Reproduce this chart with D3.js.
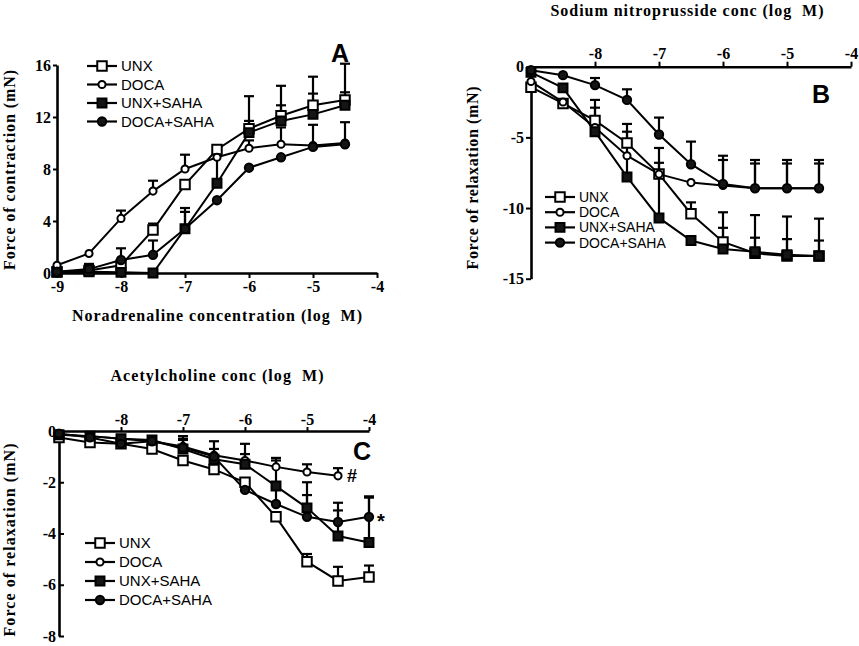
<!DOCTYPE html>
<html>
<head>
<meta charset="utf-8">
<script src="https://cdn.jsdelivr.net/npm/d3@7"></script>
<style>
  body { margin: 0; background: #fff; }
  svg { display: block; }
</style>
</head>
<body>
<script>
// log molar concentrations
const concAB = [-9, -8.5, -8, -7.5, -7, -6.5, -6, -5.5, -5, -4.5];
const concC = [-9, -8.5, -8, -7.5, -7, -6.5, -6, -5.5, -5, -4.5, -4];
const groups = ['UNX', 'DOCA', 'UNX+SAHA', 'DOCA+SAHA'];

// panel A: noradrenaline, force of contraction (mN), mean and SEM
const aUNX = [0.1, 0.2, 0.6, 3.3, 6.8, 9.5, 11.1, 12.1, 12.9, 13.3];
const aUNXErr = [0, 0, 0, 0.5, 0.3, 0.3, 2.5, 2.3, 2.2, 2.8];
const aDOCA = [0.6, 1.5, 4.2, 6.3, 8.0, 8.9, 9.6, 9.9, 9.8, 10.0];
const aDOCAErr = [0, 0, 0.6, 0.8, 1.1, 0.4, 0.6, 1.3, 1.6, 1.6];
const aUNXSAHA = [0.05, 0.1, 0.05, 0, 3.4, 6.9, 10.8, 11.7, 12.2, 12.9];
const aUNXSAHAErr = [0, 0, 0, 0, 1.6, 2.8, 0.9, 1.2, 1.6, 1.0];
const aDOCASAHA = [0.1, 0.3, 1.0, 1.4, 3.4, 5.6, 8.1, 8.9, 9.7, 9.9];
const aDOCASAHAErr = [0, 0.4, 0.9, 1.1, 1.3, 0, 0, 0, 0, 0];

// panel B: sodium nitroprusside, force of relaxation (mN)
const bUNX = [-1.45, -2.6, -3.8, -5.4, -7.6, -10.4, -12.4, -13.2, -13.4, -13.4];
const bUNXErr = [0, 0, 0.9, 0.8, 0, 0.8, 1.0, 1.1, 1.2, 1.1];
const bDOCA = [-1.05, -2.5, -4.3, -6.3, -7.6, -8.2, -8.4, -8.6, -8.6, -8.6];
const bDOCAErr = [0, 0, 0, 0, 0.8, 0, 1.8, 1.75, 1.75, 1.75];
const bUNXSAHA = [-0.4, -1.5, -4.6, -7.8, -10.7, -12.3, -12.9, -13.1, -13.3, -13.4];
const bUNXSAHAErr = [0, 0, 2.25, 3.75, 4.95, 0, 2.6, 2.6, 2.7, 2.65];
const bDOCASAHA = [-0.25, -0.6, -1.3, -2.35, -4.8, -6.9, -8.3, -8.6, -8.6, -8.6];
const bDOCASAHAErr = [0, 0, 0.5, 0.75, 1.2, 1.6, 2.0, 2.0, 2.0, 2.0];

// panel C: acetylcholine, force of relaxation (mN)
const cUNX = [-0.25, -0.45, -0.5, -0.7, -1.15, -1.5, -2.0, -3.35, -5.1, -5.85, -5.7];
const cUNXErr = [0, 0, 0, 0, 0, 0, 0, 0, 0.3, 0.55, 0.45];
const cDOCA = [-0.15, -0.2, -0.3, -0.4, -0.6, -0.95, -1.15, -1.4, -1.6, -1.75];
const cDOCAErr = [0, 0, 0, 0, 0.3, 0.55, 0.65, 0.35, 0.3, 0.3];
const cUNXSAHA = [-0.15, -0.2, -0.3, -0.35, -0.7, -1.1, -1.3, -2.15, -3.0, -4.1, -4.35];
const cUNXSAHAErr = [0, 0, 0, 0, 0.5, 0.4, 0.4, 1.0, 1.0, 1.3, 1.75];
const cDOCASAHA = [-0.1, -0.25, -0.5, -0.4, -0.65, -1.0, -2.3, -2.85, -3.35, -3.55, -3.35];
const cDOCASAHAErr = [0, 0, 0, 0, 0.3, 0, 0, 0.6, 0.85, 0.45, 0.8];

const xTicksA = [-9, -8, -7, -6, -5, -4];
const xTicksBC = [-8, -7, -6, -5, -4];
const yTicksA = [0, 4, 8, 12, 16];
const yTicksB = [0, -5, -10, -15];
const yTicksC = [0, -2, -4, -6, -8];

const svg = d3.select('body').append('svg')
  .attr('width', 859)
  .attr('height', 646);

const markerStyle = {
  'UNX': { type: d3.symbolSquare, size: 90, fill: '#fff' },
  'DOCA': { type: d3.symbolCircle, size: 40, fill: '#fff' },
  'UNX+SAHA': { type: d3.symbolSquare, size: 80, fill: '#151515' },
  'DOCA+SAHA': { type: d3.symbolCircle, size: 55, fill: '#151515' }
};

const serif = '"Liberation Serif", "Times New Roman", serif';
const sans = '"Liberation Sans", Arial, sans-serif';

function toPoints(xs, ys, es) {
  return ys.map((v, i) => ({ x: xs[i], y: v, e: es[i] }));
}

function drawPanel(p) {
  const x = d3.scaleLinear().domain([-9, -4]).range([p.left, p.right]);
  const y = d3.scaleLinear().domain(p.yDomain).range([p.bottom, p.top]);
  const g = svg.append('g');

  const xAxis = (p.xTop ? d3.axisTop(x) : d3.axisBottom(x))
    .tickValues(p.xTicks).tickSize(p.xTickSize).tickSizeOuter(0)
    .tickPadding(p.xPad).tickFormat(d => String(d));
  const xg = g.append('g')
    .attr('transform', 'translate(0,' + y(0) + ')')
    .call(xAxis);

  const yAxis = d3.axisLeft(y)
    .tickValues(p.yTicks).tickSize(p.yTickSize).tickSizeOuter(0)
    .tickPadding(p.yPad).tickFormat(d => String(d));
  const yg = g.append('g')
    .attr('transform', 'translate(' + x(-9) + ',0)')
    .call(yAxis);

  [xg, yg].forEach(a => {
    a.select('.domain').attr('stroke', '#000').attr('stroke-width', 2.6);
    a.selectAll('.tick line').attr('stroke', '#000').attr('stroke-width', 2);
    a.selectAll('.tick text')
      .attr('fill', '#000')
      .style('font-family', serif)
      .style('font-weight', 'bold')
      .style('font-size', '16px');
  });

  // error bars
  p.series.forEach(s => {
    const pts = s.points.filter(d => d.e > 0);
    const eg = g.append('g').attr('stroke', '#000').attr('stroke-width', 2.2);
    eg.selectAll('line.v').data(pts).enter().append('line')
      .attr('x1', d => x(d.x)).attr('x2', d => x(d.x))
      .attr('y1', d => y(d.y)).attr('y2', d => y(d.y + d.e));
    eg.selectAll('line.c').data(pts).enter().append('line')
      .attr('x1', d => x(d.x) - 5).attr('x2', d => x(d.x) + 5)
      .attr('y1', d => y(d.y + d.e)).attr('y2', d => y(d.y + d.e));
  });

  const line = d3.line().x(d => x(d.x)).y(d => y(d.y));
  p.series.forEach(s => {
    g.append('path')
      .datum(s.points)
      .attr('d', line)
      .attr('fill', 'none')
      .attr('stroke', '#000')
      .attr('stroke-width', 2);
  });
  p.series.forEach(s => {
    const m = markerStyle[s.name];
    g.selectAll(null).data(s.points).enter().append('path')
      .attr('transform', d => 'translate(' + x(d.x) + ',' + y(d.y) + ')')
      .attr('d', d3.symbol().type(m.type).size(m.size))
      .attr('fill', m.fill)
      .attr('stroke', '#000')
      .attr('stroke-width', 2);
  });

  // legend
  const lg = g.append('g');
  groups.forEach((name, i) => {
    const ly = p.legend.y + i * p.legend.step;
    const m = markerStyle[name];
    lg.append('line')
      .attr('x1', p.legend.x).attr('x2', p.legend.x + 30)
      .attr('y1', ly).attr('y2', ly)
      .attr('stroke', '#000').attr('stroke-width', 2.2);
    lg.append('path')
      .attr('transform', 'translate(' + (p.legend.x + 15) + ',' + ly + ')')
      .attr('d', d3.symbol().type(m.type).size(m.size))
      .attr('fill', m.fill).attr('stroke', '#000').attr('stroke-width', 2);
    lg.append('text')
      .attr('x', p.legend.x + 34).attr('y', ly + p.legend.font * 0.36)
      .style('font-family', sans).style('font-size', p.legend.font + 'px')
      .text(name);
  });

  // titles, stretched to the widths in the figure
  g.append('text')
    .attr('x', p.xTitle.x).attr('y', p.xTitle.y)
    .attr('text-anchor', 'middle')
    .attr('textLength', p.xTitle.len).attr('lengthAdjust', 'spacing')
    .style('white-space', 'pre')
    .style('font-family', serif).style('font-weight', 'bold').style('font-size', '16px')
    .text(p.xTitle.text);
  g.append('text')
    .attr('transform', 'translate(' + p.yTitle.x + ',' + p.yTitle.y + ') rotate(-90)')
    .attr('text-anchor', 'middle')
    .attr('textLength', p.yTitle.len).attr('lengthAdjust', 'spacing')
    .style('font-family', serif).style('font-weight', 'bold').style('font-size', '16px')
    .text(p.yTitle.text);
  g.append('text')
    .attr('x', p.tag.x).attr('y', p.tag.y)
    .style('font-family', sans).style('font-weight', 'bold').style('font-size', '25px')
    .text(p.tag.text);

  return { x, y, g };
}

drawPanel({
  left: 57, right: 377, top: 65, bottom: 273, yDomain: [0, 16],
  xTop: false, xTicks: xTicksA, xTickSize: 5, xPad: 3,
  yTicks: yTicksA, yTickSize: 4, yPad: 2,
  series: [
    { name: 'UNX', points: toPoints(concAB, aUNX, aUNXErr) },
    { name: 'DOCA', points: toPoints(concAB, aDOCA, aDOCAErr) },
    { name: 'UNX+SAHA', points: toPoints(concAB, aUNXSAHA, aUNXSAHAErr) },
    { name: 'DOCA+SAHA', points: toPoints(concAB, aDOCASAHA, aDOCASAHAErr) }
  ],
  legend: { x: 87, y: 66, step: 18.5, font: 15 },
  xTitle: { x: 217, y: 321, len: 290, text: 'Noradrenaline concentration (log  M)' },
  yTitle: { x: 15, y: 170, len: 200, text: 'Force of contraction (mN)' },
  tag: { x: 331, y: 62, text: 'A' }
});

drawPanel({
  left: 531, right: 851, top: 66.7, bottom: 278.7, yDomain: [-15, 0],
  xTop: true, xTicks: xTicksBC, xTickSize: 5, xPad: 3,
  yTicks: yTicksB, yTickSize: 5, yPad: 2,
  series: [
    { name: 'UNX', points: toPoints(concAB, bUNX, bUNXErr) },
    { name: 'DOCA', points: toPoints(concAB, bDOCA, bDOCAErr) },
    { name: 'UNX+SAHA', points: toPoints(concAB, bUNXSAHA, bUNXSAHAErr) },
    { name: 'DOCA+SAHA', points: toPoints(concAB, bDOCASAHA, bDOCASAHAErr) }
  ],
  legend: { x: 545, y: 197, step: 15.2, font: 14 },
  xTitle: { x: 687, y: 16, len: 273, text: 'Sodium nitroprusside conc (log  M)' },
  yTitle: { x: 478, y: 178, len: 183, text: 'Force of relaxation (mN)' },
  tag: { x: 812, y: 103, text: 'B' }
});

const pc = drawPanel({
  left: 59, right: 369, top: 431, bottom: 636, yDomain: [-8, 0],
  xTop: true, xTicks: xTicksBC, xTickSize: 4, xPad: 2,
  yTicks: yTicksC, yTickSize: -5, yPad: 3,
  series: [
    { name: 'UNX', points: toPoints(concC, cUNX, cUNXErr) },
    { name: 'DOCA', points: toPoints(concC, cDOCA, cDOCAErr) },
    { name: 'UNX+SAHA', points: toPoints(concC, cUNXSAHA, cUNXSAHAErr) },
    { name: 'DOCA+SAHA', points: toPoints(concC, cDOCASAHA, cDOCASAHAErr) }
  ],
  legend: { x: 85, y: 543, step: 19, font: 15 },
  xTitle: { x: 217, y: 381, len: 213, text: 'Acetylcholine conc (log  M)' },
  yTitle: { x: 15, y: 540, len: 193, text: 'Force of relaxation (mN)' },
  tag: { x: 353, y: 460, text: 'C' }
});

// significance marks beside the last points of panel C
pc.g.append('text')
  .attr('x', pc.x(-4.5) + 9).attr('y', pc.y(cDOCA[cDOCA.length - 1]) + 6)
  .style('font-family', sans).style('font-weight', 'bold').style('font-size', '18px')
  .text('#');
pc.g.append('text')
  .attr('x', pc.x(-4) + 8).attr('y', pc.y(cDOCASAHA[cDOCASAHA.length - 1]) + 11)
  .style('font-family', sans).style('font-weight', 'bold').style('font-size', '20px')
  .text('*');
</script>
</body>
</html>
